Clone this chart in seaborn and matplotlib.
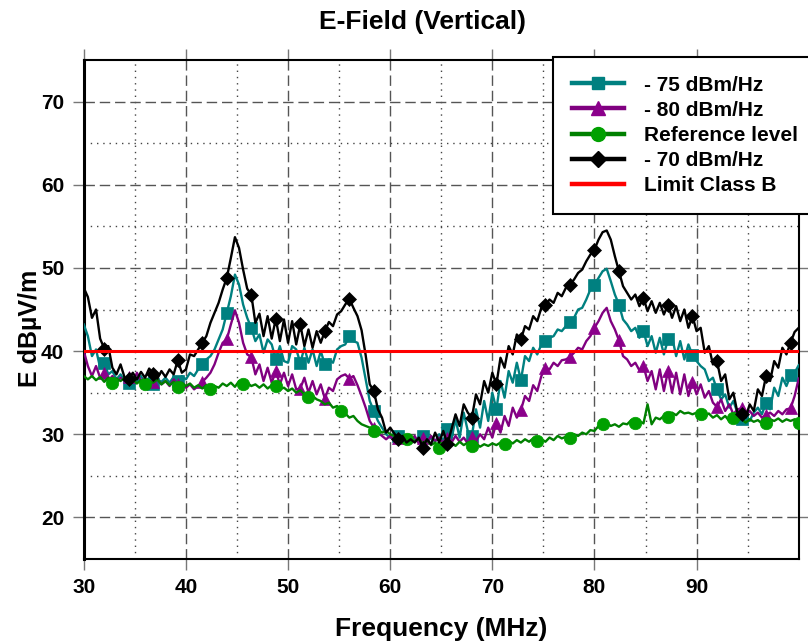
import numpy as np
import matplotlib
matplotlib.use("Agg")
import matplotlib.pyplot as plt
import seaborn as sns
from matplotlib.lines import Line2D
from matplotlib.ticker import FixedLocator

# Measurement grid: 30 MHz .. 100 MHz in 0.4 MHz steps (176 points)
freq = np.round(30.0 + 0.4 * np.arange(176), 1)

# - 75 dBm/Hz
level_75 = [
    43.2, 41.8, 39.4, 40.2, 38.0, 38.6, 37.2, 37.6, 36.6, 37.2,
    36.4, 36.2, 36.9, 36.3, 37.0, 36.2, 36.8, 36.0, 36.6, 36.3,
    36.8, 36.2, 36.9, 36.4, 37.0, 36.6, 37.4, 37.0, 37.8, 38.4,
    39.0, 39.4, 40.2, 41.4, 42.6, 44.6, 46.6, 49.2, 48.0, 45.6,
    44.0, 42.8, 41.2, 42.0, 39.8, 41.4, 40.8, 39.0, 40.6, 38.8,
    38.6, 40.6, 40.2, 38.6, 40.4, 38.6, 40.2, 38.2, 40.0, 38.4,
    39.0, 38.6, 40.2, 40.6, 40.8, 41.8, 41.2, 41.0, 39.2, 36.6,
    34.0, 32.8, 31.6, 30.8, 30.0, 29.6, 29.4, 29.8, 29.2, 29.6,
    29.0, 29.6, 29.2, 29.8, 29.0, 29.6, 29.1, 30.0, 29.2, 30.6,
    29.4, 31.8, 29.6, 32.6, 30.4, 29.8, 33.0, 30.8, 34.0, 31.6,
    35.0, 33.0, 36.4, 34.4, 37.6, 36.2, 38.6, 36.5, 39.4, 38.8,
    40.4, 39.6, 40.8, 41.2, 41.6, 41.8, 42.6, 42.4, 43.0, 43.5,
    44.0, 45.0, 45.2, 46.2, 47.4, 48.0, 48.8, 49.6, 49.9, 48.4,
    46.8, 45.6, 43.8, 43.2, 42.4, 42.8, 41.6, 42.4, 40.6, 41.8,
    39.8, 41.6, 39.6, 41.4, 41.7, 39.4, 41.2, 39.0, 40.8, 39.5,
    38.8, 38.2, 37.8, 36.4, 36.8, 35.4, 34.2, 34.8, 33.2, 34.0,
    32.6, 31.8, 32.4, 31.6, 32.6, 33.2, 32.4, 33.8, 33.0, 35.6,
    34.6, 36.8, 35.8, 37.1, 37.4, 38.3,
]

# - 80 dBm/Hz
level_80 = [
    40.0, 38.2, 37.0, 38.2, 36.8, 37.4, 36.4, 37.0, 36.2, 36.8,
    36.4, 36.9, 36.2, 37.4, 36.4, 36.8, 36.0, 36.3, 36.6, 36.0,
    36.4, 35.8, 36.6, 36.0, 36.2, 35.6, 36.0, 35.4, 35.8, 36.3,
    36.8, 37.4, 38.4, 39.8, 41.0, 41.4, 43.2, 44.9, 43.4, 41.0,
    39.6, 39.3, 37.2, 38.4, 36.4, 38.0, 36.2, 37.6, 36.0, 37.4,
    35.8, 37.2, 35.4, 35.5, 36.8, 35.0, 36.4, 34.8, 36.0, 34.3,
    35.6, 35.2, 36.6, 37.0, 37.2, 36.7, 37.0, 35.9, 34.6, 33.2,
    31.6, 30.8, 30.2, 29.8, 29.4, 29.8, 29.2, 29.6, 29.0, 29.6,
    29.2, 29.8, 28.9, 29.6, 29.0, 29.8, 29.2, 29.6, 28.9, 29.5,
    29.0, 29.8, 29.1, 29.6, 28.9, 29.7, 29.2, 30.0, 29.4, 30.8,
    29.6, 31.4, 30.2, 32.2, 31.0, 33.2, 32.0, 32.9, 34.6, 34.0,
    35.9, 35.2, 37.0, 38.0, 37.8, 38.6, 38.2, 38.9, 39.0, 39.3,
    39.8, 40.4, 40.2, 41.2, 41.8, 42.8, 43.6, 44.6, 45.2, 43.6,
    42.6, 41.3, 39.4, 39.0, 38.2, 38.6, 37.7, 38.2, 36.4, 37.6,
    35.4, 37.8, 35.2, 37.6, 35.0, 37.4, 34.8, 37.2, 34.6, 36.3,
    34.8, 36.0, 34.4, 35.2, 33.8, 33.3, 34.2, 32.8, 33.6, 32.4,
    33.0, 33.1, 32.4, 32.8, 32.2, 32.6, 32.0, 32.3, 32.6, 32.2,
    32.8, 32.4, 33.0, 33.1, 34.6, 36.7,
]

# Reference level (no interferer)
level_ref = [
    37.0, 36.6, 37.0, 36.5, 36.9, 36.3, 36.8, 36.2, 36.7, 36.4,
    36.8, 36.2, 36.6, 36.1, 36.5, 36.0, 36.4, 36.2, 36.6, 36.0,
    36.4, 35.9, 36.3, 35.7, 36.2, 35.8, 36.1, 35.6, 35.9, 35.5,
    35.9, 35.4, 35.8, 35.6, 36.1, 35.8, 36.2, 35.7, 36.4, 36.0,
    36.2, 35.8, 36.0, 35.6, 36.0, 35.5, 35.9, 35.8, 35.4, 35.6,
    35.2, 35.5, 35.0, 35.3, 34.8, 34.5, 34.6, 34.2, 34.0, 33.6,
    33.8, 33.2, 33.4, 32.8, 32.5, 32.0, 32.2, 31.6, 31.2, 31.0,
    30.8, 30.4, 30.6, 30.2, 30.4, 30.0, 29.8, 29.6, 29.8, 29.4,
    29.6, 29.2, 29.4, 28.9, 29.3, 28.7, 29.0, 28.4, 29.0, 28.8,
    29.0, 28.6, 29.1, 28.7, 29.0, 28.6, 28.9, 28.5, 28.8, 28.6,
    28.9, 28.7, 29.0, 28.8, 29.2, 28.9, 29.3, 29.0, 29.4, 29.1,
    29.5, 29.2, 29.4, 29.1, 29.6, 29.3, 29.8, 29.5, 29.7, 29.6,
    30.0, 29.8, 30.2, 30.0, 30.5, 30.4, 31.0, 31.2, 31.4, 31.0,
    31.2, 30.9, 31.3, 31.2, 31.7, 31.4, 31.6, 31.3, 33.6, 31.2,
    32.0, 31.8, 32.2, 32.1, 32.6, 32.3, 32.8, 32.5, 32.6, 32.4,
    32.6, 32.4, 32.2, 32.5, 32.0, 32.3, 31.8, 32.2, 31.6, 32.0,
    31.6, 31.9, 31.4, 31.8, 31.5, 31.7, 31.3, 31.4, 31.8, 31.6,
    31.9, 31.5, 31.8, 31.6, 31.8, 31.4,
]

# - 70 dBm/Hz
level_70 = [
    47.6, 46.5, 44.0, 45.0, 41.5, 40.3, 40.6, 38.0, 37.2, 38.4,
    36.8, 36.6, 37.4, 36.6, 37.5, 36.8, 37.9, 37.3, 36.7, 37.6,
    36.9, 37.8, 37.2, 38.9, 37.4, 37.8, 39.6, 39.4, 40.2, 41.0,
    41.8, 43.4, 44.6, 45.8, 47.4, 48.8, 51.2, 53.7, 52.4, 49.8,
    47.5, 46.8, 43.4, 44.5, 41.8, 44.2, 41.5, 43.9, 41.2, 43.8,
    41.0, 43.6, 40.8, 43.2, 40.6, 42.6, 40.4, 42.4, 41.0, 42.4,
    43.5, 43.0, 44.4, 44.8, 45.6, 46.3, 45.2, 44.2, 42.5, 39.5,
    36.0, 35.2, 33.0, 32.0, 30.2, 30.8, 30.1, 29.4, 29.8, 29.0,
    29.4, 29.0, 29.6, 28.4, 29.4, 28.8, 30.2, 29.0, 30.4, 28.8,
    30.6, 32.4, 31.0, 33.6, 32.6, 32.0, 34.8, 33.6, 36.4, 35.0,
    37.4, 36.0, 39.2, 38.0, 40.6, 39.6, 42.0, 41.4, 43.0, 42.6,
    44.2, 43.6, 45.2, 45.5, 46.2, 45.8, 47.0, 46.6, 47.6, 48.0,
    48.6, 49.4, 49.8, 50.8, 51.6, 52.2, 53.4, 54.3, 54.5, 53.4,
    51.4, 49.6, 47.8, 47.0, 46.2, 46.8, 45.4, 46.4, 44.8, 46.0,
    44.6, 45.8, 44.4, 45.6, 44.0, 45.4, 43.6, 45.0, 42.8, 44.2,
    42.4, 42.8, 39.8, 40.6, 38.4, 38.8, 36.4, 37.2, 34.2, 35.0,
    32.6, 32.4, 32.0, 33.6, 32.8, 35.4, 34.6, 37.0, 36.4, 38.8,
    38.0, 40.4, 39.6, 41.0, 42.3, 42.8,
]

# Limit Class B
limit_freq = [30.0, 100.0]
limit_level = [40.0, 40.0]

series = [
    ("- 75 dBm/Hz", level_75, "#008080", "#008080", "s", slice(5, None, 6), 8),
    ("- 80 dBm/Hz", level_80, "#800080", "#8B008B", "^", slice(5, None, 6), 9),
    ("Reference level", level_ref, "#008000", "#00A000", "o", slice(7, None, 8), 9),
    ("- 70 dBm/Hz", level_70, "#000000", "#000000", "D", slice(5, None, 6), 7.5),
]

plt.rcParams["font.family"] = ["Liberation Sans", "DejaVu Sans"]
plt.rcParams["font.weight"] = "bold"

fig = plt.figure(figsize=(8.08, 6.43), dpi=100)
ax = fig.add_axes([0.1037, 0.1306, 0.8848, 0.7761])

for label, vals, lc, mc, mk, every, ms in series:
    sns.lineplot(x=freq, y=vals, ax=ax, color=lc, linewidth=1.7,
                 marker=mk, markersize=ms, markevery=every,
                 markerfacecolor=mc, markeredgecolor=mc, markeredgewidth=0.5,
                 legend=False, zorder=3)

sns.lineplot(x=limit_freq, y=limit_level, ax=ax, color="#FF0000",
             linewidth=2.2, legend=False, zorder=4)

ax.set_xlim(30, 100)
ax.set_ylim(15, 75)
ax.xaxis.set_major_locator(FixedLocator([30, 40, 50, 60, 70, 80, 90]))
ax.xaxis.set_minor_locator(FixedLocator([35, 45, 55, 65, 75, 85, 95]))
ax.yaxis.set_major_locator(FixedLocator([20, 30, 40, 50, 60, 70]))
ax.yaxis.set_minor_locator(FixedLocator([25, 35, 45, 55, 65]))

ax.grid(which="major", color="#555555", linestyle=(0, (7.5, 3.5)), linewidth=1.0)
ax.grid(which="minor", color="#444444", linestyle=(0, (1, 3.5)), linewidth=1.0)
ax.set_axisbelow(True)

ax.tick_params(which="major", direction="out", length=8, width=1.0, color="#777777",
               top=True, right=True, labeltop=False, labelright=False,
               labelsize=15, pad=6)
ax.tick_params(which="minor", length=0)
for lab in ax.get_xticklabels() + ax.get_yticklabels():
    lab.set_fontweight("bold")

for side in ["top", "right", "bottom"]:
    ax.spines[side].set_linewidth(1.5)
    ax.spines[side].set_color("black")
ax.spines["left"].set_linewidth(2.2)
ax.spines["left"].set_color("black")

ax.set_xlabel("")
ax.set_ylabel("")
fig.text(0.523, 0.966, "E-Field (Vertical)", ha="center", va="center",
         fontsize=19, fontweight="bold")
fig.text(0.546, 0.021, "Frequency (MHz)", ha="center", va="center",
         fontsize=19, fontweight="bold")
fig.text(0.037, 0.49, "E dB\u00b5V/m", ha="center", va="center", rotation=90,
         fontsize=18, fontweight="bold")

handles = []
for label, vals, lc, mc, mk, every, ms in series:
    handles.append(Line2D([], [], color=lc, linewidth=3.2, marker=mk, markersize=ms + 1,
                          markerfacecolor=mc, markeredgecolor=mc, label=label))
handles.append(Line2D([], [], color="#FF0000", linewidth=3.2, label="Limit Class B"))

leg = ax.legend(handles=handles, loc="upper left",
                bbox_to_anchor=(553 / 808, 1 - 57 / 643), bbox_transform=fig.transFigure,
                frameon=True, fancybox=False, framealpha=1, edgecolor="black",
                fontsize=15, handlelength=2.5, handletextpad=0.95, borderpad=0.9,
                labelspacing=0.29, borderaxespad=0)
leg.get_frame().set_linewidth(1.5)
for t in leg.get_texts():
    t.set_fontweight("bold")
leg.set_zorder(10)

fig.savefig("out.png", dpi=100)
